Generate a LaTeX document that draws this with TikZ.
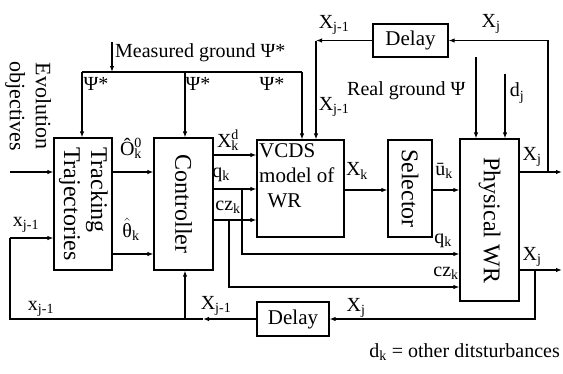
\documentclass[tikz,border=0pt]{standalone}
\usepackage{fontspec}
\setmainfont{Liberation Serif}
\usetikzlibrary{arrows.meta, positioning}

\begin{document}
\begin{tikzpicture}[
    x=1pt, y=-1pt,
    box/.style={rectangle, draw, line width=1.2pt, inner sep=1pt, align=center, font=\fontsize{24}{27}\selectfont},
    lbl/.style={inner sep=0pt, font=\fontsize{20}{24}\selectfont},
    arrow/.style={-{Latex[length=6pt,width=4.5pt]}, line width=1.2pt},
    bold/.style={line width=2.6pt}
]
\useasboundingbox (0,0) rectangle (563,373);

% blocks
\node[box, minimum width=58pt, minimum height=132pt] (track) at (83,204) {\rotatebox{-90}{\begin{tabular}{@{}l@{}}Tracking\\Trajectories\end{tabular}}};
\node[box, minimum width=59pt, minimum height=132pt] (ctrl) at (183.5,204) {\rotatebox{-90}{Controller}};
\node[box, minimum width=87pt, minimum height=97pt] (vcds) at (300.5,188.5) {};
\node[lbl, font=\fontsize{21}{25}\selectfont, align=left, anchor=north west] (vcdstxt) at (259,143) {VCDS\\model of\\\hspace{0.4em}WR};
\node[box, minimum width=44pt, minimum height=97pt] (sel) at (410,188.5) {\rotatebox{-90}{Selector}};
\node[box, minimum width=59pt, minimum height=162pt] (phys) at (489.5,220) {\rotatebox{-90}{Physical WR}};
\node[box, minimum width=75pt, minimum height=33pt, font=\fontsize{21}{24}\selectfont] (delayT) at (410.5,40.5) {Delay};
\node[box, minimum width=72pt, minimum height=34pt, font=\fontsize{21}{24}\selectfont] (delayB) at (293,319) {Delay};

% free ends and bends
\coordinate (meas) at (112,42);
\coordinate (bus) at (112,72);
\coordinate (busL) at (82,72);
\coordinate (busM) at (185,72);
\coordinate (busR) at (302,72);
\coordinate (fbk) at (316,40.5);
\coordinate (tapA) at (548,172);
\coordinate (endA) at (562,172);
\coordinate (tapB) at (535,270);
\coordinate (endB) at (562,270);
\coordinate (rg) at (476,57);
\coordinate (dj) at (505,74);
\coordinate (evoin) at (10,172);
\coordinate (lpin) at (10,238);
\coordinate (lp) at (10,319);
\coordinate (mid) at (203,319);
\coordinate (up) at (185,319);
\coordinate (qb) at (242,189);
\coordinate (czb) at (229,220);

% measured ground bus
\draw[arrow] (meas) -- (bus);
\draw[line width=1.2pt] (busL) -- (busR);
\foreach \c/\n in {busL/track, busM/ctrl, busR/vcds}{\draw[arrow] (\c) -- (\c |- \n.north);}

% delayed state from the top
\draw[arrow] (delayT.west) -- (fbk);
\draw[arrow] (fbk) -- (fbk |- vcds.north);
\draw[arrow] (phys.east |- tapA) -- (endA);
\draw[arrow] (tapA) |- (delayT.east);
\draw[arrow] (rg) -- (rg |- phys.north);
\draw[arrow, bold] (dj) -- (dj |- phys.north);

% inputs
\draw[arrow] (evoin) -- (evoin -| track.west);
\draw[arrow] (delayB.west) -- (mid);
\draw[line width=1.2pt] (mid) -- (lp) -- (lpin);
\draw[arrow] (lpin) -- (lpin -| track.west);
\draw[arrow] (up) -- (up |- ctrl.south);

% forward path
\draw[arrow] (track.east |- 0,172) -- (ctrl.west |- 0,172);
\draw[arrow, bold] (track.east |- 0,254) -- (ctrl.west |- 0,254);
\draw[arrow, bold] (ctrl.east |- 0,155) -- (vcds.west |- 0,155);
\draw[arrow] (ctrl.east |- qb) -- (vcds.west |- qb);
\draw[arrow] (ctrl.east |- czb) -- (vcds.west |- czb);
\draw[arrow, bold] (qb) |- (phys.west |- 0,254);
\draw[arrow] (czb) |- (phys.west |- 0,287);
\draw[arrow] (vcds.east |- 0,190) -- (sel.west |- 0,190);
\draw[arrow] (sel.east |- 0,190) -- (phys.west |- 0,190);
\draw[arrow] (phys.east |- tapB) -- (endB);
\draw[arrow] (tapB) |- (delayB.east);

% labels
\node[lbl, font=\fontsize{22}{26}\selectfont] (evo) at (28,106) {\rotatebox{-90}{\begin{tabular}{@{}c@{}}Evolution\\objectives\end{tabular}}};
\node[lbl, anchor=west] (mg) at (115,53) {Measured ground Ψ*};
\node[lbl] (p1) at (96,84) {Ψ*};
\node[lbl] (p2) at (198,84) {Ψ*};
\node[lbl] (p3) at (272,84) {Ψ*};
\node[lbl] (xt1) at (334,25) {X\textsubscript{j-1}};
\node[lbl] (xt2) at (334,107) {X\textsubscript{j-1}};
\node[lbl, anchor=west] (rgl) at (347,91) {Real ground Ψ};
\node[lbl] (xjt) at (491,24) {X\textsubscript{j}};
\node[lbl] (djl) at (517,93) {d\textsubscript{j}};
\node[lbl] (xja) at (532,157) {X\textsubscript{j}};
\node[lbl] (xjb) at (532,257) {X\textsubscript{j}};
\node[lbl] (oh) at (131,148) {Ô\rlap{\textsuperscript{0}}\textsubscript{k}};
\node[lbl] (th) at (131,229) {$\hat{\hbox{θ}}$\textsubscript{k}};
\node[lbl] (xd) at (228,140) {X\rlap{\textsuperscript{d}}\textsubscript{k}};
\node[lbl] (q1) at (221,175) {q\textsubscript{k}};
\node[lbl] (cz1) at (228,207) {cz\textsubscript{k}};
\node[lbl] (xk) at (357,171) {X\textsubscript{k}};
\node[lbl] (ub) at (444,171) {ū\textsubscript{k}};
\node[lbl] (q2) at (443,241) {q\textsubscript{k}};
\node[lbl] (cz2) at (446,273) {cz\textsubscript{k}};
\node[lbl] (xl) at (26,225) {x\textsubscript{j-1}};
\node[lbl] (xb) at (41,309) {x\textsubscript{j-1}};
\node[lbl] (xm) at (216,306) {X\textsubscript{j-1}};
\node[lbl] (xr) at (356,308) {X\textsubscript{j}};
\node[lbl, anchor=east] (note) at (560,352) {d\textsubscript{k} = other ditsturbances};

\end{tikzpicture}
\end{document}
